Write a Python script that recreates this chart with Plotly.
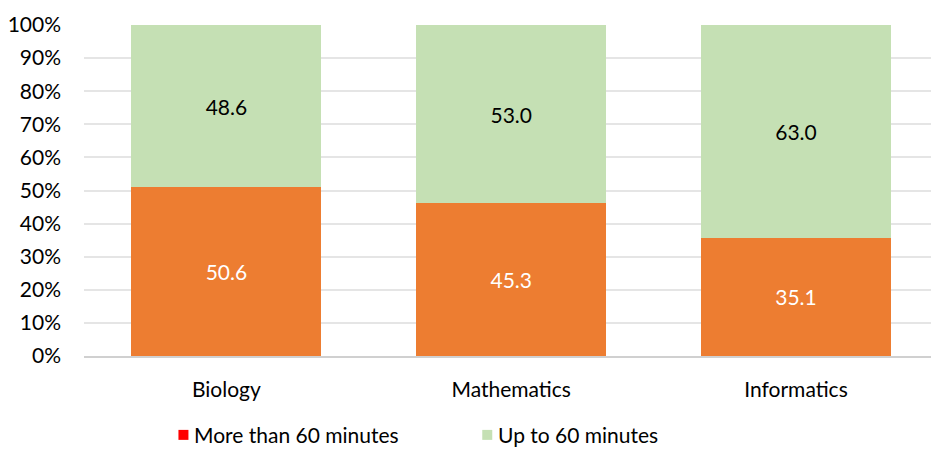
import plotly.graph_objects as go

categories = ["Biology", "Mathematics", "Informatics"]
more_than_60 = [50.6, 45.3, 35.1]
up_to_60 = [48.6, 53.0, 63.0]
series_names = ["More than 60 minutes", "Up to 60 minutes"]
tick_vals = [0, 10, 20, 30, 40, 50, 60, 70, 80, 90, 100]
tick_text = [f"{v}%" for v in tick_vals]

ORANGE = "#ED7D31"
GREEN = "#C5E0B4"
LEGEND_RED = "#FF0000"
FONT = "Lato"
FS = 21

# plot area geometry (pixels) for legend placement
W, H = 931, 450
ML, MR, MT, MB = 83.5, 0, 24.5, 94
PW, PH = W - ML - MR, H - MT - MB


def px_x(p):
    return (p - ML) / PW


def px_y(p):
    return (H - MB - p) / PH


fig = go.Figure()
fig.add_trace(go.Bar(
    x=categories, y=more_than_60, name=series_names[0],
    marker=dict(color=ORANGE, line=dict(width=0)),
    text=[f"{v:.1f}" for v in more_than_60], textposition="inside",
    insidetextanchor="middle", textangle=0,
    textfont=dict(color="white", size=FS, family=FONT),
    showlegend=False,
))
fig.add_trace(go.Bar(
    x=categories, y=up_to_60, name=series_names[1],
    marker=dict(color=GREEN, line=dict(width=0)),
    text=[f"{v:.1f}" for v in up_to_60], textposition="inside",
    insidetextanchor="middle", textangle=0,
    textfont=dict(color="black", size=FS, family=FONT),
    showlegend=False,
))

# legend drawn below the plot (keeps plot area fixed)
LEG_Y = 435
legend_items = [(series_names[0], LEGEND_RED, 178), (series_names[1], GREEN, 482)]
for name, col, sx in legend_items:
    fig.add_shape(type="rect", xref="paper", yref="paper",
                  x0=px_x(sx), x1=px_x(sx + 10), y0=px_y(LEG_Y + 5), y1=px_y(LEG_Y - 5),
                  fillcolor=col, line=dict(width=0))
    fig.add_annotation(xref="paper", yref="paper", x=px_x(sx + 14), y=px_y(LEG_Y),
                       xanchor="left", yanchor="middle", showarrow=False,
                       text=name, font=dict(size=FS, family=FONT, color="black"))

fig.update_layout(
    width=W, height=H,
    margin=dict(l=ML, r=MR, t=MT, b=MB, pad=0),
    barmode="stack", barnorm="percent", bargap=1/3,
    plot_bgcolor="white", paper_bgcolor="white",
    font=dict(family=FONT, size=FS, color="black"),
    showlegend=False,
)
fig.update_xaxes(
    type="category", range=[-0.5, 2.474], showgrid=False,
    showline=True, linecolor="#D0D0D0", linewidth=1.5,
    ticks="", ticklabelstandoff=14, tickfont=dict(size=FS, family=FONT),
)
fig.update_yaxes(
    range=[0, 100], tickvals=tick_vals, ticktext=tick_text,
    showgrid=True, gridcolor="#E5E5E5", gridwidth=1.5, zeroline=False,
    showline=False, ticks="", ticklabelstandoff=22,
    tickfont=dict(size=FS, family=FONT),
)

fig.write_html("out.html")
